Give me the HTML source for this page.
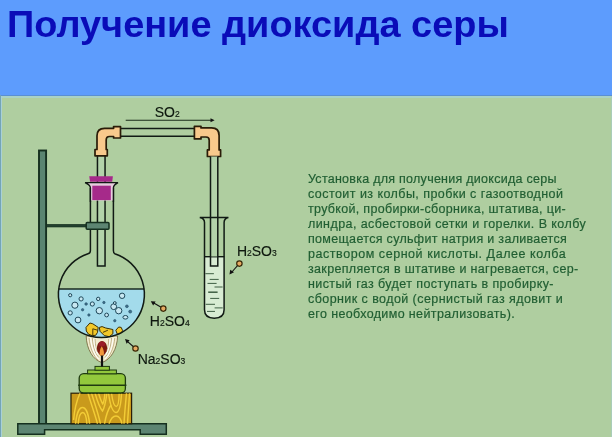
<!DOCTYPE html>
<html><head><meta charset="utf-8">
<style>
html,body{margin:0;padding:0;}
body{width:612px;height:437px;overflow:hidden;position:relative;background:#5d9cfd;font-family:"Liberation Sans",sans-serif;}
#title{position:absolute;left:6.75px;top:3px;font-weight:bold;font-size:36px;line-height:44px;transform:scaleX(1.053);transform-origin:0 0;color:#0a0cb8;white-space:nowrap;}
#panel{position:absolute;left:0;top:95px;width:612px;height:342px;background:#afcea0;}
#txt{position:absolute;left:308px;top:172px;color:#205e32;-webkit-text-stroke:0.2px #205e32;font-size:12.5px;line-height:15px;}
#txt div{white-space:nowrap;}
#txt,#title,svg{will-change:transform;}
svg{position:absolute;left:0;top:0;}
.lb{font-family:"Liberation Sans",sans-serif;fill:#0e180e;stroke:#0e180e;stroke-width:0.15px;}
</style></head><body>
<div id="title">Получение диоксида серы</div>
<div id="panel"></div>
<div style="position:absolute;left:0;top:94.6px;width:612px;height:1.4px;background:#5a8fd2;"></div>
<div style="position:absolute;left:0;top:96px;width:612px;height:1.6px;background:#a9d2c6;"></div>
<div style="position:absolute;left:0;top:95px;width:0.9px;height:342px;background:#74a4b6;"></div>
<div style="position:absolute;left:0.9px;top:96px;width:1.3px;height:341px;background:#a8d0d8;"></div>
<div style="position:absolute;left:610.5px;top:96px;width:1.5px;height:341px;background:#a9cdb9;"></div>
<svg width="612" height="437" viewBox="0 0 612 437">
  <defs>
    <clipPath id="bulb"><circle cx="101.4" cy="294.6" r="43"/></clipPath>
    <clipPath id="tt"><path d="M204.5,222 L204.5,309.8 C204.5,316 208.6,318.2 214.3,318.2 C220,318.2 224.1,316 224.1,309.8 L224.1,222 Z"/></clipPath>
    <clipPath id="wood"><rect x="71" y="393.2" width="60.6" height="30.5"/></clipPath>
  </defs>
  <!-- stand rod -->
  <rect x="39" y="150.5" width="7.1" height="276" fill="#5a8571" stroke="#15301f" stroke-width="1.9"/>
  <!-- base -->
  <path d="M17.8,423.8 L166.3,423.8 L166.3,434.3 L140.2,434.3 L140.2,429.8 L44.6,429.8 L44.6,434.3 L17.8,434.3 Z" fill="#5d8572" stroke="#15301f" stroke-width="1.5"/>
  <!-- clamp arm -->
  <rect x="46.5" y="224.3" width="40" height="2.7" fill="#22402e" stroke="#15301f" stroke-width="0.6"/>

  <!-- wood block -->
  <rect x="71" y="393.2" width="60.6" height="30.5" fill="#c99a1c" stroke="#2a2008" stroke-width="1.2"/>
  <g clip-path="url(#wood)" fill="none" stroke="#f2cc36" stroke-width="1.45">
    <path d="M75.6,424 C76.5,413 79.5,407.5 82.5,407.5 C85.5,407.5 88.5,413 89.6,424"/>
    <path d="M78.2,424 C78.8,416 80.8,412.5 82.8,412.5 C84.8,412.5 86.3,416 86.9,424"/>
    <path d="M73.6,420 C74.5,409 76.5,401 80,393"/>
    <path d="M88,393 C91,404 95,414 97.5,424"/>
    <path d="M91.5,393 C94,402 98,412 100.5,424"/>
    <path d="M95,393 C97,400 100,408 102.5,411 C104.5,408 106,400 107,393"/>
    <path d="M98.5,393 C100,398 101.5,402 102.8,404 C104,402 104.5,398 105,393"/>
    <path d="M104.5,424 C106,415 109,408 111,405"/>
    <path d="M108.5,393 C110,404 112.5,412.5 116,412.5 C119.5,412.5 121,404 121.5,393"/>
    <path d="M111.5,393 C112.5,401 114,406.5 116.3,406.5 C118.5,406.5 119,401 119.2,393"/>
    <path d="M109,424 C111,418 113,416 116,416 C119,416 121,419 122,424"/>
    <path d="M126.5,393 C125.5,404 124.5,414 124,424"/>
    <path d="M129.5,393 C129,404 128,414 127.5,424"/>
  </g>
  <!-- burner -->
  <rect x="79.2" y="373.6" width="46.2" height="19.4" rx="4.5" fill="#92c83c" stroke="#1f3a10" stroke-width="1.3"/>
  <line x1="78.2" y1="385.2" x2="126.4" y2="385.2" stroke="#1f3a10" stroke-width="1.6"/>
  <rect x="87.6" y="370" width="28.8" height="3.8" fill="#92c83c" stroke="#1f3a10" stroke-width="1"/>
  <rect x="95" y="366.4" width="14.4" height="3.8" fill="#92c83c" stroke="#1f3a10" stroke-width="1"/>

  <!-- flame -->
  <path d="M86.2,336 C86.5,349 93,360 101.8,362.5 C110.6,360 117.3,349 117.6,336 Z" fill="#f3edcf" stroke="#6e6034" stroke-width="0.8"/>
  <g fill="none" stroke="#a08a58" stroke-width="0.6">
    <path d="M89,338 C90,348 93.5,356 98.5,360.5"/>
    <path d="M114.8,338 C113.8,348 110.3,356 105.2,360.5"/>
    <path d="M92.3,338 C93,347 95.3,353.5 98.8,357.5"/>
    <path d="M111.5,338 C110.8,347 108.5,353.5 105,357.5"/>
    <path d="M95,339 C95.3,345 96,349 97.5,352"/>
    <path d="M108.8,339 C108.5,345 107.8,349 106.3,352"/>
  </g>
  <g fill="none" stroke="#ffffff" stroke-width="1.1" opacity="0.85">
    <path d="M90.6,338 C91.5,348 94.5,355 98.6,359"/>
    <path d="M113.2,338 C112.3,348 109.3,355 105.2,359"/>
    <path d="M93.7,339 C94.2,346 95.6,351 97.6,354.5"/>
    <path d="M110.1,339 C109.6,346 108.2,351 106.2,354.5"/>
  </g>
  <path d="M102,341 C98.8,341.3 96.9,344.5 96.9,348.5 C96.9,352 99.4,355 102,357 C104.6,355 107.1,352 107.1,348.5 C107.1,344.5 105.2,341.3 102,341 Z" fill="#7c1a10"/>
  <ellipse cx="102" cy="344" rx="3.2" ry="2.4" fill="#b01e38" opacity="0.6"/>
  <path d="M101.7,346.3 C100,349 99.4,352 99.7,354.5 C100.1,355.8 100.9,356.4 101.7,356.4 C102.5,356.4 103.5,355.8 103.9,354.5 C104.2,352 103.5,349 101.7,346.3 Z" fill="#f0963a"/>
  <line x1="102" y1="355.5" x2="102" y2="366.6" stroke="#111" stroke-width="2.2"/>

  <!-- flask bulb contents -->
  <g clip-path="url(#bulb)">
    <rect x="55" y="289" width="95" height="52" fill="#a3dbeb"/>
  </g>
  <line x1="58.5" y1="289" x2="144.3" y2="289" stroke="#1a2a20" stroke-width="1.5"/>
  <!-- bubbles -->
  <g fill="#c8e8f2" stroke="#1d4658" stroke-width="1">
    <circle cx="70.2" cy="295.2" r="1.6"/>
    <circle cx="81.1" cy="298.9" r="2.1"/>
    <circle cx="74.9" cy="305.2" r="3.1"/>
    <circle cx="70.2" cy="312.9" r="2.1"/>
    <circle cx="78" cy="320" r="2.9"/>
    <circle cx="92.3" cy="304" r="2.1"/>
    <circle cx="98.2" cy="298.9" r="1.7"/>
    <circle cx="99.3" cy="310.7" r="3.2"/>
    <circle cx="106.6" cy="315" r="1.9"/>
    <circle cx="113.7" cy="306.7" r="2.9"/>
    <circle cx="114.8" cy="303" r="1.4"/>
    <circle cx="118.7" cy="310.7" r="3.2"/>
    <circle cx="122.1" cy="295.8" r="2.7"/>
    <ellipse cx="125.4" cy="317.3" rx="2.5" ry="1.8"/>
  </g>
  <g fill="#3f6f8a" stroke="#24506a" stroke-width="0.6">
    <circle cx="86.1" cy="304" r="1.3"/>
    <circle cx="82.6" cy="309.8" r="1.2"/>
    <circle cx="88.9" cy="315" r="1.2"/>
    <circle cx="103.9" cy="302.5" r="1.2"/>
    <circle cx="114.8" cy="320.7" r="1.2"/>
    <circle cx="126.9" cy="306.3" r="1.4"/>
    <circle cx="130.2" cy="311.6" r="1.5"/>
  </g>
  <!-- crystals -->
  <g fill="#f2c82a" stroke="#3a2e04" stroke-width="1" stroke-linejoin="round">
    <path d="M86,327.4 L89.9,323 L92.8,323.8 L98.2,327.4 L97.5,332.4 L95.7,335.3 L92.1,335.6 L88.5,334.2 L86.3,331 Z"/>
    <path d="M99.3,327.4 L102.1,326.6 L105.7,328 L112.9,329.5 L112.9,333.8 L109.3,336.7 L104.3,335.6 L100,331.3 Z"/>
    <path d="M115.8,330.2 L118.7,327 L121.2,327.4 L122.6,330.6 L120.8,333.5 L117.3,334.2 Z"/>
  </g>
  <g fill="none" stroke="#3a2e04" stroke-width="0.9">
    <path d="M92.8,335 L92.8,328.8 L97.5,330.2"/>
    <path d="M102.9,332.4 L107.9,330.2"/>
  </g>
  <!-- flask outline -->
  <path d="M90.4,188 L90.4,250.5 Q90.4,253.2 88,253.7 A43,43 0 1,0 114.8,253.7 Q113.4,253.2 113.4,250.5 L113.4,188" fill="none" stroke="#111a14" stroke-width="1.5"/>
  <!-- tube in flask -->
  <path d="M97.45,156 L97.45,265.9 L105.05,265.9 L105.05,156" fill="#b3d3aa" stroke="#111a14" stroke-width="1.5"/>
  <!-- flask lip -->
  <path d="M85.1,182.6 L118,182.6 Q113.4,185 113.4,188 L113.4,200.4 L90.4,200.4 L90.4,188 Q90.4,185 85.1,182.6 Z" fill="#e6cddd"/>
  <!-- stopper -->
  <rect x="92.3" y="185.7" width="18.5" height="14.4" fill="#a62a8a"/>
  <path d="M89.2,176.3 L112.9,176.3 L112.2,181.8 L90.1,181.8 Z" fill="#a62a8a"/>
  <path d="M90.4,202 L90.4,188 Q90.4,185 85.1,182.6 L118,182.6 Q113.4,185 113.4,188 L113.4,202" fill="none" stroke="#111a14" stroke-width="1.4"/>

  <!-- clamp block -->
  <rect x="86.2" y="222.4" width="22.8" height="6.8" rx="1" fill="#5d8572" stroke="#15301f" stroke-width="1.5"/>

  <!-- horizontal tube -->
  <line x1="120" y1="128.6" x2="195" y2="128.6" stroke="#111a14" stroke-width="1.5"/>
  <line x1="120" y1="136.3" x2="195" y2="136.3" stroke="#111a14" stroke-width="1.5"/>

  <!-- left elbow -->
  <path d="M120.5,126.6 L113.6,126.6 L113.6,128.3 L104.5,128.3 Q97,128.3 97,135.8 L97,149.5 L95,149.5 L95,155.8 L107.3,155.8 L107.3,149.5 L106.2,149.5 L106.2,140 Q106.2,136.5 109.5,136.5 L113.6,136.5 L113.6,138 L120.5,138 Z" fill="#f8c98c" stroke="#2a1c08" stroke-width="1.7" stroke-linejoin="round"/>

  <!-- right elbow -->
  <path d="M194.4,126.3 L201,126.3 L201,127.9 L211.6,127.9 Q219.1,127.9 219.1,135.4 L219.1,149.9 L220.6,149.9 L220.6,156.5 L207.4,156.5 L207.4,149.9 L209.2,149.9 L209.2,140.3 Q209.2,137 206,137 L201,137 L201,138.9 L194.4,138.9 Z" fill="#f8c98c" stroke="#2a1c08" stroke-width="1.7" stroke-linejoin="round"/>

  <!-- test tube contents -->
  <g clip-path="url(#tt)">
    <rect x="200" y="256.7" width="30" height="70" fill="#d8ecd3"/>
  </g>
  <line x1="204.4" y1="256.7" x2="224.3" y2="256.7" stroke="#111a14" stroke-width="1.4"/>
  <g stroke="#3e5e42" stroke-width="1">
    <line x1="205.4" y1="273.7" x2="213.9" y2="273.7"/>
    <line x1="209.7" y1="279.4" x2="218.7" y2="279.4"/>
    <line x1="207.5" y1="283.4" x2="216.6" y2="283.4"/>
    <line x1="214.5" y1="287" x2="222.6" y2="287"/>
    <line x1="208.2" y1="292.2" x2="217.6" y2="292.2" stroke-width="1.5"/>
    <line x1="210.2" y1="298.4" x2="219.2" y2="298.4"/>
    <line x1="205.7" y1="304.3" x2="215" y2="304.3"/>
    <line x1="214.6" y1="307.9" x2="222.7" y2="307.9"/>
    <line x1="207" y1="311.4" x2="215" y2="311.4"/>
  </g>
  <!-- right tube -->
  <rect x="210.5" y="156.5" width="7.3" height="100" fill="#b3d3aa"/>
  <path d="M210.5,156.5 L210.5,266.1 L217.8,266.1 L217.8,156.5" fill="none" stroke="#111a14" stroke-width="1.5"/>
  <!-- test tube outline -->
  <path d="M199.8,217.5 L228.4,217.5 Q224.1,218.5 224.1,222.4 L224.1,309.8 C224.1,316 220,318.2 214.3,318.2 C208.6,318.2 204.5,316 204.5,309.8 L204.5,222.4 Q204.5,218.5 199.8,217.5 Z" fill="none" stroke="#111a14" stroke-width="1.5"/>

  <!-- SO2 arrow -->
  <line x1="125.7" y1="120.3" x2="212" y2="120.3" stroke="#1a2a1a" stroke-width="1.1"/>
  <path d="M210.5,118.3 L214.6,120.3 L210.5,122.3 Z" fill="#111"/>
  <text x="154.7" y="116.6" class="lb" font-size="14">SO<tspan font-size="8.5">2</tspan></text>

  <!-- pointers -->
  <g stroke="#111" stroke-width="1.1">
    <line x1="163.3" y1="308.6" x2="152.5" y2="302.3"/>
    <line x1="135.5" y1="348.5" x2="126.5" y2="340.6"/>
    <line x1="239.5" y1="263.4" x2="231" y2="273"/>
  </g>
  <g fill="#111">
    <path d="M150.8,301.3 L155.6,301.6 L153.2,305.4 Z"/>
    <path d="M125,339.1 L129.6,340.2 L126.6,343.8 Z"/>
    <path d="M229.5,274.5 L230.2,269.7 L234,272.3 Z"/>
  </g>
  <g fill="#e6aa62" stroke="#3a2808" stroke-width="1.2">
    <circle cx="163.3" cy="308.6" r="2.7"/>
    <circle cx="135.5" cy="348.5" r="2.7"/>
    <circle cx="239.4" cy="263.6" r="2.7"/>
  </g>
  <text x="236.9" y="255.6" class="lb" font-size="14">H<tspan font-size="8.5">2</tspan>SO<tspan font-size="8.5">3</tspan></text>
  <text x="149.8" y="325.8" class="lb" font-size="14">H<tspan font-size="8.5">2</tspan>SO<tspan font-size="8.5">4</tspan></text>
  <text x="137.7" y="364.3" class="lb" font-size="14">Na<tspan font-size="8.5">2</tspan>SO<tspan font-size="8.5">3</tspan></text>
</svg>
<div id="txt">
<div style="letter-spacing:0.264px">Установка для получения диоксида серы</div>
<div style="letter-spacing:0.447px">состоит из колбы, пробки с газоотводной</div>
<div style="letter-spacing:0.31px">трубкой, пробирки-сборника, штатива, ци-</div>
<div style="letter-spacing:0.421px">линдра, асбестовой сетки и горелки. В колбу</div>
<div style="letter-spacing:0.314px">помещается сульфит натрия и заливается</div>
<div style="letter-spacing:0.553px">раствором серной кислоты. Далее колба</div>
<div style="letter-spacing:0.341px">закрепляется в штативе и нагревается, сер-</div>
<div style="letter-spacing:0.405px">нистый газ будет поступать в пробирку-</div>
<div style="letter-spacing:0.429px">сборник с водой (сернистый газ ядовит и</div>
<div style="letter-spacing:0.37px">его необходимо нейтрализовать).</div>
</div>
</body></html>
